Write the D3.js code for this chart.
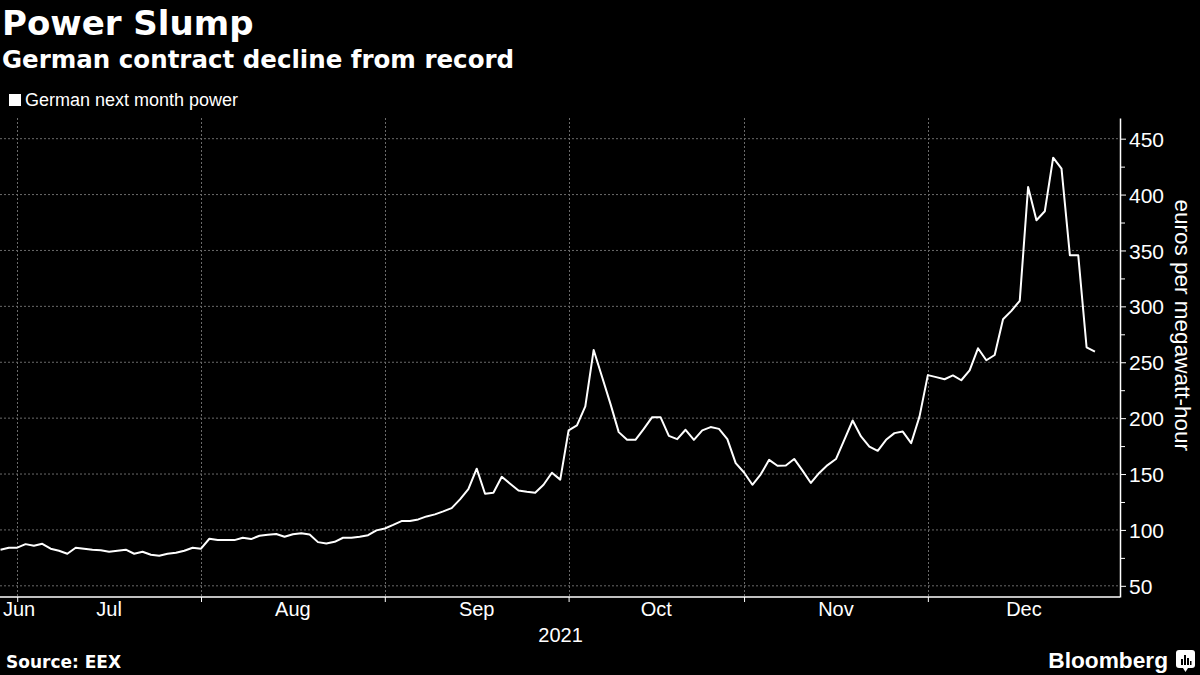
<!DOCTYPE html>
<html><head><meta charset="utf-8">
<script src="https://cdn.jsdelivr.net/npm/d3@7"></script>
<style>
html,body{margin:0;padding:0;background:#000;}
svg{display:block;}
</style></head><body>
<svg id="chart" width="1200" height="675"></svg>
<script>
const titleText = "Power Slump";
const subtitleText = "German contract decline from record";
const seriesName = "German next month power";
const yAxisTitle = "euros per megawatt-hour";
const sourceText = "Source: EEX";
const yearLabel = "2021";
const monthLabels = ["Jun","Jul","Aug","Sep","Oct","Nov","Dec"];
const yTicks = [50,100,150,200,250,300,350,400,450];
const yMinorTicks = [75,125,175,225,275,325,375,425];

const dates = [
"2021-06-29","2021-06-30",
"2021-07-01","2021-07-02","2021-07-05","2021-07-06","2021-07-07","2021-07-08","2021-07-09","2021-07-12","2021-07-13","2021-07-14","2021-07-15","2021-07-16","2021-07-19","2021-07-20","2021-07-21","2021-07-22","2021-07-23","2021-07-26","2021-07-27","2021-07-28","2021-07-29","2021-07-30",
"2021-08-02","2021-08-03","2021-08-04","2021-08-05","2021-08-06","2021-08-09","2021-08-10","2021-08-11","2021-08-12","2021-08-13","2021-08-16","2021-08-17","2021-08-18","2021-08-19","2021-08-20","2021-08-23","2021-08-24","2021-08-25","2021-08-26","2021-08-27","2021-08-30","2021-08-31",
"2021-09-01","2021-09-02","2021-09-03","2021-09-06","2021-09-07","2021-09-08","2021-09-09","2021-09-10","2021-09-13","2021-09-14","2021-09-15","2021-09-16","2021-09-17","2021-09-20","2021-09-21","2021-09-22","2021-09-23","2021-09-24","2021-09-27","2021-09-28","2021-09-29","2021-09-30",
"2021-10-01","2021-10-04","2021-10-05","2021-10-06","2021-10-07","2021-10-08","2021-10-11","2021-10-12","2021-10-13","2021-10-14","2021-10-15","2021-10-18","2021-10-19","2021-10-20","2021-10-21","2021-10-22","2021-10-25","2021-10-26","2021-10-27","2021-10-28","2021-10-29",
"2021-11-01","2021-11-02","2021-11-03","2021-11-04","2021-11-05","2021-11-08","2021-11-09","2021-11-10","2021-11-11","2021-11-12","2021-11-15","2021-11-16","2021-11-17","2021-11-18","2021-11-19","2021-11-22","2021-11-23","2021-11-24","2021-11-25","2021-11-26","2021-11-29","2021-11-30",
"2021-12-01","2021-12-02","2021-12-03","2021-12-06","2021-12-07","2021-12-08","2021-12-09","2021-12-10","2021-12-13","2021-12-14","2021-12-15","2021-12-16","2021-12-17","2021-12-20","2021-12-21","2021-12-22","2021-12-23","2021-12-24","2021-12-27","2021-12-28","2021-12-29"
];

const values = [
82.3,84.1,
84.1,87.3,85.8,87.6,83.2,81.4,78.7,84.1,83.2,82.3,81.8,80.5,81.4,82.3,78.7,80.5,77.8,76.9,78.7,79.6,81.4,84.1,
83.2,92.1,90.9,90.9,90.9,93.0,91.8,94.8,95.7,96.4,93.9,96.2,97.1,96.0,89.1,87.9,89.4,93.0,93.0,93.9,95.3,99.6,
101.3,104.5,107.9,107.9,109.4,112.1,113.9,116.6,119.5,127.3,136.5,154.8,132.4,133.3,147.5,141.3,135.3,134.2,133.3,140.4,151.2,145.0,
189.0,193.5,210.5,261.0,237.0,213.0,187.5,180.6,180.6,190.4,200.9,200.9,184.2,181.2,189.6,180.6,189.0,192.0,190.4,181.3,159.8,
151.4,140.4,149.7,162.7,157.4,157.7,163.5,153.1,142.0,151.0,158.0,163.4,180.6,197.9,183.6,174.6,170.8,180.6,186.6,188.0,177.6,201.4,
238.5,236.7,234.8,238.2,233.9,242.8,262.5,251.8,256.5,288.4,296.0,305.0,406.8,377.0,385.1,433.0,423.2,345.8,345.8,263.4,259.5
];

const svg = d3.select("#chart");
svg.append("rect").attr("width",1200).attr("height",675).attr("fill","#000");

const plot = {left:0, right:1120, top:118, bottom:597};
const parse = d3.timeParse("%Y-%m-%d");
const parsed = dates.map(parse);
const x = d3.scaleLinear().domain([0, dates.length + 2]).range([0.5, plot.right]);
const y = d3.scaleLinear().domain([40, 468.5]).range([plot.bottom, plot.top]);

// month boundaries (trading-day index of first day of each month)
const monthStarts = [];
parsed.forEach((d,i)=>{ if(i>0 && d.getMonth()!==parsed[i-1].getMonth()) monthStarts.push(i); });

const grid = svg.append("g");
grid.selectAll("line.h").data(yTicks).join("line")
  .attr("x1",plot.left).attr("x2",plot.right)
  .attr("y1",d=>y(d)).attr("y2",d=>y(d))
  .attr("stroke","#6a6a6a").attr("stroke-width",1).attr("stroke-dasharray","2,2");
grid.selectAll("line.v").data(monthStarts).join("line")
  .attr("x1",d=>Math.round(x(d))+0.5).attr("x2",d=>Math.round(x(d))+0.5)
  .attr("y1",plot.top).attr("y2",plot.bottom)
  .attr("stroke","#6a6a6a").attr("stroke-width",1).attr("stroke-dasharray","2,2");

// x axis
const xAxis = d3.axisBottom(x).tickValues(monthStarts).tickSize(5).tickSizeOuter(0).tickFormat("");
const gx = svg.append("g").attr("transform",`translate(0,${plot.bottom})`).call(xAxis);
gx.select(".domain").attr("stroke","#fff").attr("stroke-width",1.5).attr("d",`M${plot.left},0H${plot.right}`);
gx.selectAll(".tick line").attr("stroke","#fff");

const bounds = [0, ...monthStarts, dates.length + 2];
const lbl = svg.append("g").attr("font-family","'Liberation Sans', Arial, sans-serif").attr("font-size",20).attr("fill","#fff");
monthLabels.forEach((m,i)=>{
  const cx = x((bounds[i]+bounds[i+1])/2);
  const t = lbl.append("text").attr("y",616).text(m);
  if (cx < 25) t.attr("x",3).attr("text-anchor","start");
  else t.attr("x",cx).attr("text-anchor","middle");
});
lbl.append("text").attr("x",x(monthStarts[3])-8).attr("y",642).attr("text-anchor","middle").text(yearLabel);

// y axis (right)
const yAxis = d3.axisRight(y).tickValues(yTicks).tickSize(6).tickSizeOuter(0).tickPadding(3);
const gy = svg.append("g").attr("transform",`translate(${plot.right},0)`).call(yAxis);
gy.select(".domain").attr("stroke","#fff").attr("stroke-width",1.5);
gy.selectAll(".tick line").attr("stroke","#fff");
gy.selectAll(".tick text").attr("fill","#fff").attr("font-size",21)
  .attr("font-family","'Liberation Sans', Arial, sans-serif").attr("dy","0.36em");
const yMinor = d3.axisRight(y).tickValues(yMinorTicks).tickSize(5).tickSizeOuter(0).tickFormat("");
const gym = svg.append("g").attr("transform",`translate(${plot.right},0)`).call(yMinor);
gym.select(".domain").remove();
gym.selectAll(".tick line").attr("stroke","#fff");

svg.append("text").attr("transform",`translate(1175,${(y(450)+y(50))/2-37}) rotate(90)`)
  .attr("text-anchor","middle").attr("font-family","'Liberation Sans', Arial, sans-serif")
  .attr("font-size",22.5).attr("fill","#fff").text(yAxisTitle);

// series line
const line = d3.line().x((d,i)=>x(i)).y(d=>y(d)).curve(d3.curveLinear);
svg.append("path").datum(values).attr("d",line).attr("fill","none")
  .attr("stroke","#fff").attr("stroke-width",2).attr("stroke-linejoin","round");

// titles
svg.append("text").attr("x",2).attr("y",35).attr("font-family","'DejaVu Sans', sans-serif")
  .attr("font-weight","bold").attr("font-size",34).attr("fill","#fff").text(titleText);
svg.append("text").attr("x",2).attr("y",68).attr("font-family","'DejaVu Sans', sans-serif")
  .attr("font-weight","bold").attr("font-size",24.5).attr("fill","#fff").text(subtitleText);

// legend
svg.append("rect").attr("x",9).attr("y",94).attr("width",12).attr("height",12).attr("fill","#fff");
svg.append("text").attr("x",25).attr("y",106).attr("font-family","'Liberation Sans', Arial, sans-serif")
  .attr("font-size",18).attr("fill","#fff").text(seriesName);

// footer
svg.append("text").attr("x",6).attr("y",668).attr("font-family","'DejaVu Sans', sans-serif")
  .attr("font-weight","bold").attr("font-size",17).attr("fill","#fff").text(sourceText);
svg.append("text").attr("x",1168).attr("y",668).attr("text-anchor","end")
  .attr("font-family","'Liberation Sans', Arial, sans-serif").attr("font-weight","bold")
  .attr("font-size",22.7).attr("fill","#fff").text("Bloomberg");
const logo = svg.append("g").attr("transform","translate(1176,650)");
logo.append("rect").attr("x",0).attr("y",0).attr("width",19).attr("height",18).attr("rx",3).attr("fill","#fff");
logo.append("path").attr("d","M7,18 L9.5,22 L12,18 Z").attr("fill","#fff");
[[5,9,2,6],[8,5,2,10],[11,8,2,7],[14,11,1.5,4]].forEach(b=>{
  logo.append("rect").attr("x",b[0]).attr("y",b[1]).attr("width",b[2]).attr("height",b[3]).attr("fill","#000");
});
</script>
</body></html>
